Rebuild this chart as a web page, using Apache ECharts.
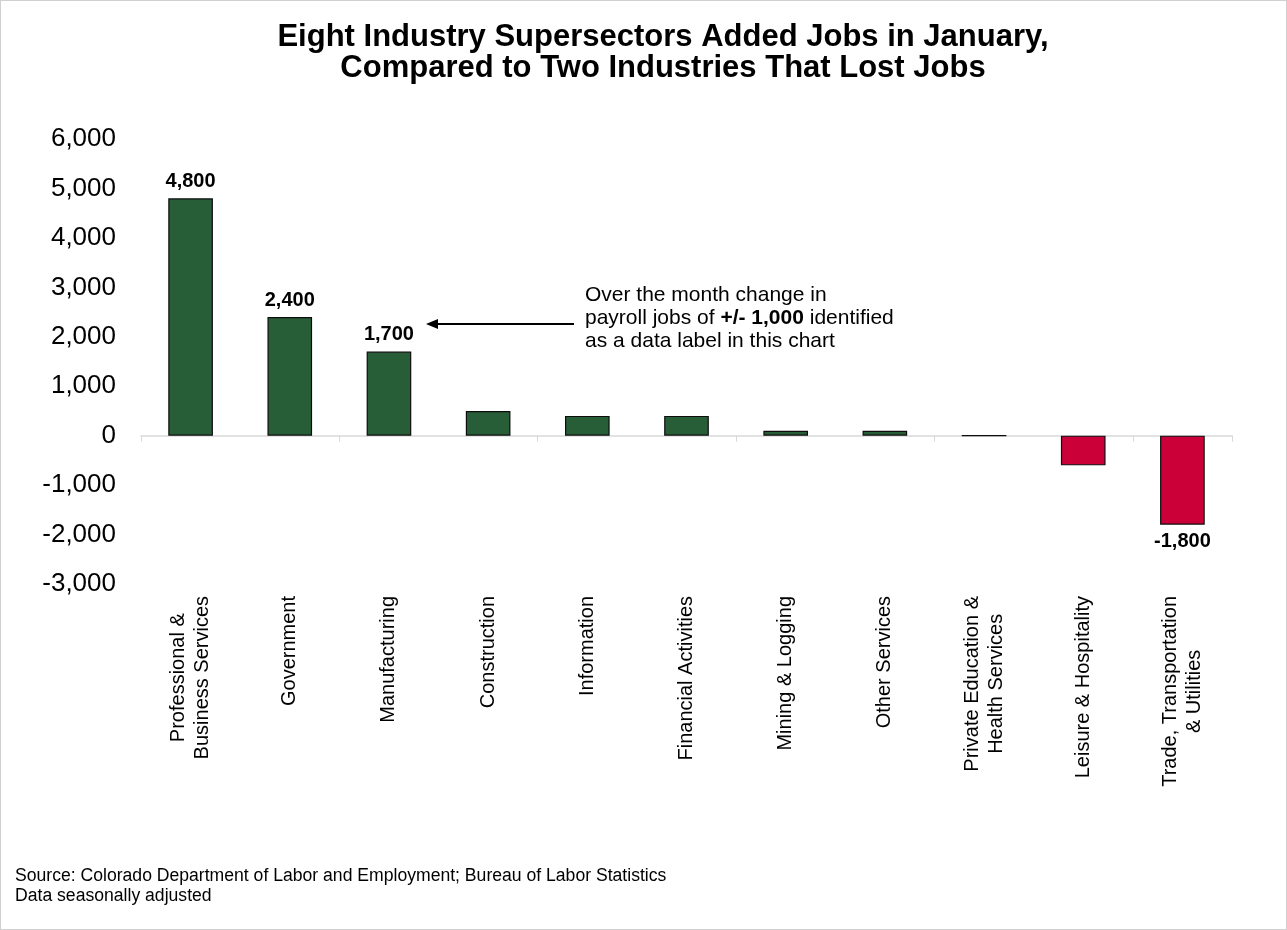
<!DOCTYPE html>
<html>
<head>
<meta charset="utf-8">
<script src="https://cdn.jsdelivr.net/npm/echarts@6/dist/echarts.min.js"></script>
<style>
html,body{margin:0;padding:0;background:#fff;}
#chart{width:1287px;height:930px;box-sizing:border-box;border:1px solid #d0d0d0;}
</style>
</head>
<body>
<div id="chart"></div>
<script>
var categories = [
  "Professional &\nBusiness Services",
  "Government",
  "Manufacturing",
  "Construction",
  "Information",
  "Financial Activities",
  "Mining & Logging",
  "Other Services",
  "Private Education &\nHealth Services",
  "Leisure & Hospitality",
  "Trade, Transportation\n& Utilities"
];
var jobChange = [4800, 2400, 1700, 500, 400, 400, 100, 100, 0, -600, -1800];
var yTicks = [-3000, -2000, -1000, 0, 1000, 2000, 3000, 4000, 5000, 6000];

var FONT = '"Liberation Sans", Arial, sans-serif';
var GREEN = '#275E38';
var RED = '#CC0039';

function fmt(v){ return v.toLocaleString('en-US'); }

var chart = echarts.init(document.getElementById('chart'));
chart.setOption({
  animation: false,
  textStyle: { fontFamily: FONT },
  title: {
    text: 'Eight Industry Supersectors Added Jobs in January,\nCompared to Two Industries That Lost Jobs',
    left: 657, top: 16, textAlign: 'center',
    textStyle: { fontFamily: FONT, fontSize: 31, fontWeight: 'bold', color: '#000', lineHeight: 31 }
  },
  grid: { left: 140, right: 54, top: 138, bottom: 345, containLabel: false },
  xAxis: [
    {
      type: 'category', data: categories, position: 'bottom',
      axisLine: { show: false, onZero: false }, axisTick: { show: false },
      axisLabel: {
        rotate: 90, fontSize: 20, color: '#000', margin: 12, lineHeight: 24, fontFamily: FONT, interval: 0,
        formatter: function(v){ return v.split('\n').map(function(s){ return '{c|' + s + '}'; }).join('\n'); },
        rich: { c: { align: 'center', fontSize: 20, lineHeight: 24, fontFamily: FONT, color: '#000' } }
      }
    },
    {
      type: 'category', data: categories, position: 'bottom',
      axisLine: { show: true, onZero: true, lineStyle: { color: '#d9d9d9', width: 1.5 } },
      axisTick: { show: true, length: 6, lineStyle: { color: '#d9d9d9' } },
      axisLabel: { show: false }
    }
  ],
  yAxis: {
    type: 'value', min: yTicks[0], max: yTicks[yTicks.length - 1], interval: 1000,
    axisLine: { show: false }, axisTick: { show: false }, splitLine: { show: false },
    axisLabel: { fontSize: 26, color: '#000', margin: 25, fontFamily: FONT, formatter: function(v){ return fmt(v); } }
  },
  series: [{
    type: 'bar', xAxisIndex: 0, barWidth: '45%',
    data: jobChange.map(function(v){
      return {
        value: v,
        itemStyle: { color: v < 0 ? RED : GREEN },
        label: { position: v < 0 ? 'bottom' : 'top' }
      };
    }),
    itemStyle: { borderColor: '#0d0d0d', borderWidth: 1.2 },
    label: {
      show: true, distance: 7, fontSize: 20, fontWeight: 'bold', color: '#000', fontFamily: FONT,
      formatter: function(p){ return Math.abs(p.value) >= 1000 ? fmt(p.value) : ''; }
    }
  }],
  graphic: [
    {
      type: 'text', left: 584, top: 283,
      style: {
        text: 'Over the month change in\npayroll jobs of {b|+/- 1,000} identified\nas a data label in this chart',
        font: '21px ' + FONT, fill: '#000', lineHeight: 23,
        rich: { b: { fontWeight: 'bold', fontSize: 21, fontFamily: FONT, fill: '#000' } }
      }
    },
    { type: 'line', shape: { x1: 573, y1: 323, x2: 436, y2: 323 }, style: { stroke: '#000', lineWidth: 2 } },
    { type: 'polygon', shape: { points: [[425, 323], [437, 318], [437, 328]] }, style: { fill: '#000' } },
    {
      type: 'text', left: 14, top: 865,
      style: { text: 'Source: Colorado Department of Labor and Employment; Bureau of Labor Statistics\nData seasonally adjusted', font: '17.6px ' + FONT, fill: '#000', lineHeight: 20 }
    }
  ]
});
</script>
</body>
</html>
